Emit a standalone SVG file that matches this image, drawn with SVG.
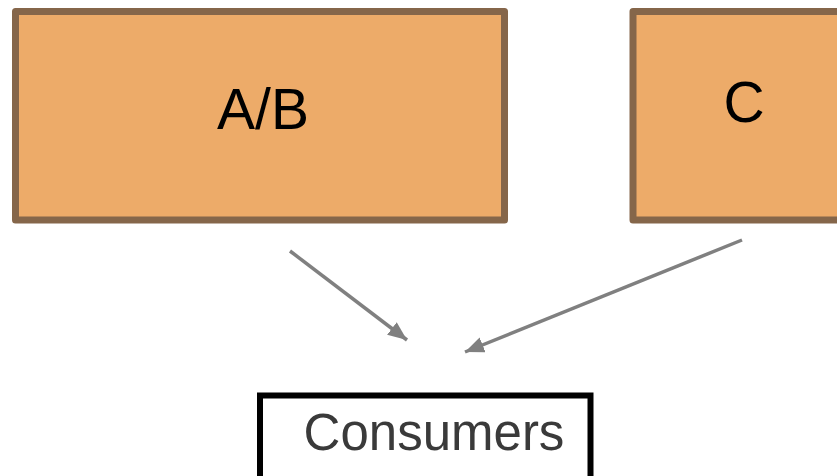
<svg xmlns="http://www.w3.org/2000/svg" width="837" height="476" viewBox="0 0 837 476">
<style>
.src{fill:#edab69;stroke:#85664a;stroke-width:7;stroke-linejoin:round}
.lbl{font-family:"Liberation Sans",Arial,sans-serif;text-anchor:middle}
.conn{stroke:#808080;stroke-width:3.5;fill:none;marker-end:url(#ah)}
</style>
<defs>
<marker id="ah" markerUnits="userSpaceOnUse" markerWidth="22" markerHeight="18" refX="19" refY="8" orient="auto">
<path d="M0,0 L19,8 L0,16 z" fill="#808080"/>
</marker>
</defs>
<rect width="837" height="476" fill="#ffffff"/>
<g id="node-ab">
<rect class="src" x="15.5" y="11.5" width="489" height="208.5"/>
<text class="lbl" x="263" y="129" font-size="57" fill="#000">A/B</text>
</g>
<g id="node-c">
<rect class="src" x="633" y="11.5" width="230" height="208.5"/>
<text class="lbl" x="744" y="122" font-size="57" fill="#000">C</text>
</g>
<g id="node-consumers">
<rect x="260" y="395.5" width="330.5" height="100" fill="#ffffff" stroke="#000" stroke-width="6"/>
<text class="lbl" x="434" y="450" font-size="51" fill="#3a3a3a">Consumers</text>
</g>
<g id="connectors">
<line class="conn" x1="290" y1="251" x2="407" y2="340"/>
<line class="conn" x1="742" y1="240" x2="465" y2="352"/>
</g>
</svg>
